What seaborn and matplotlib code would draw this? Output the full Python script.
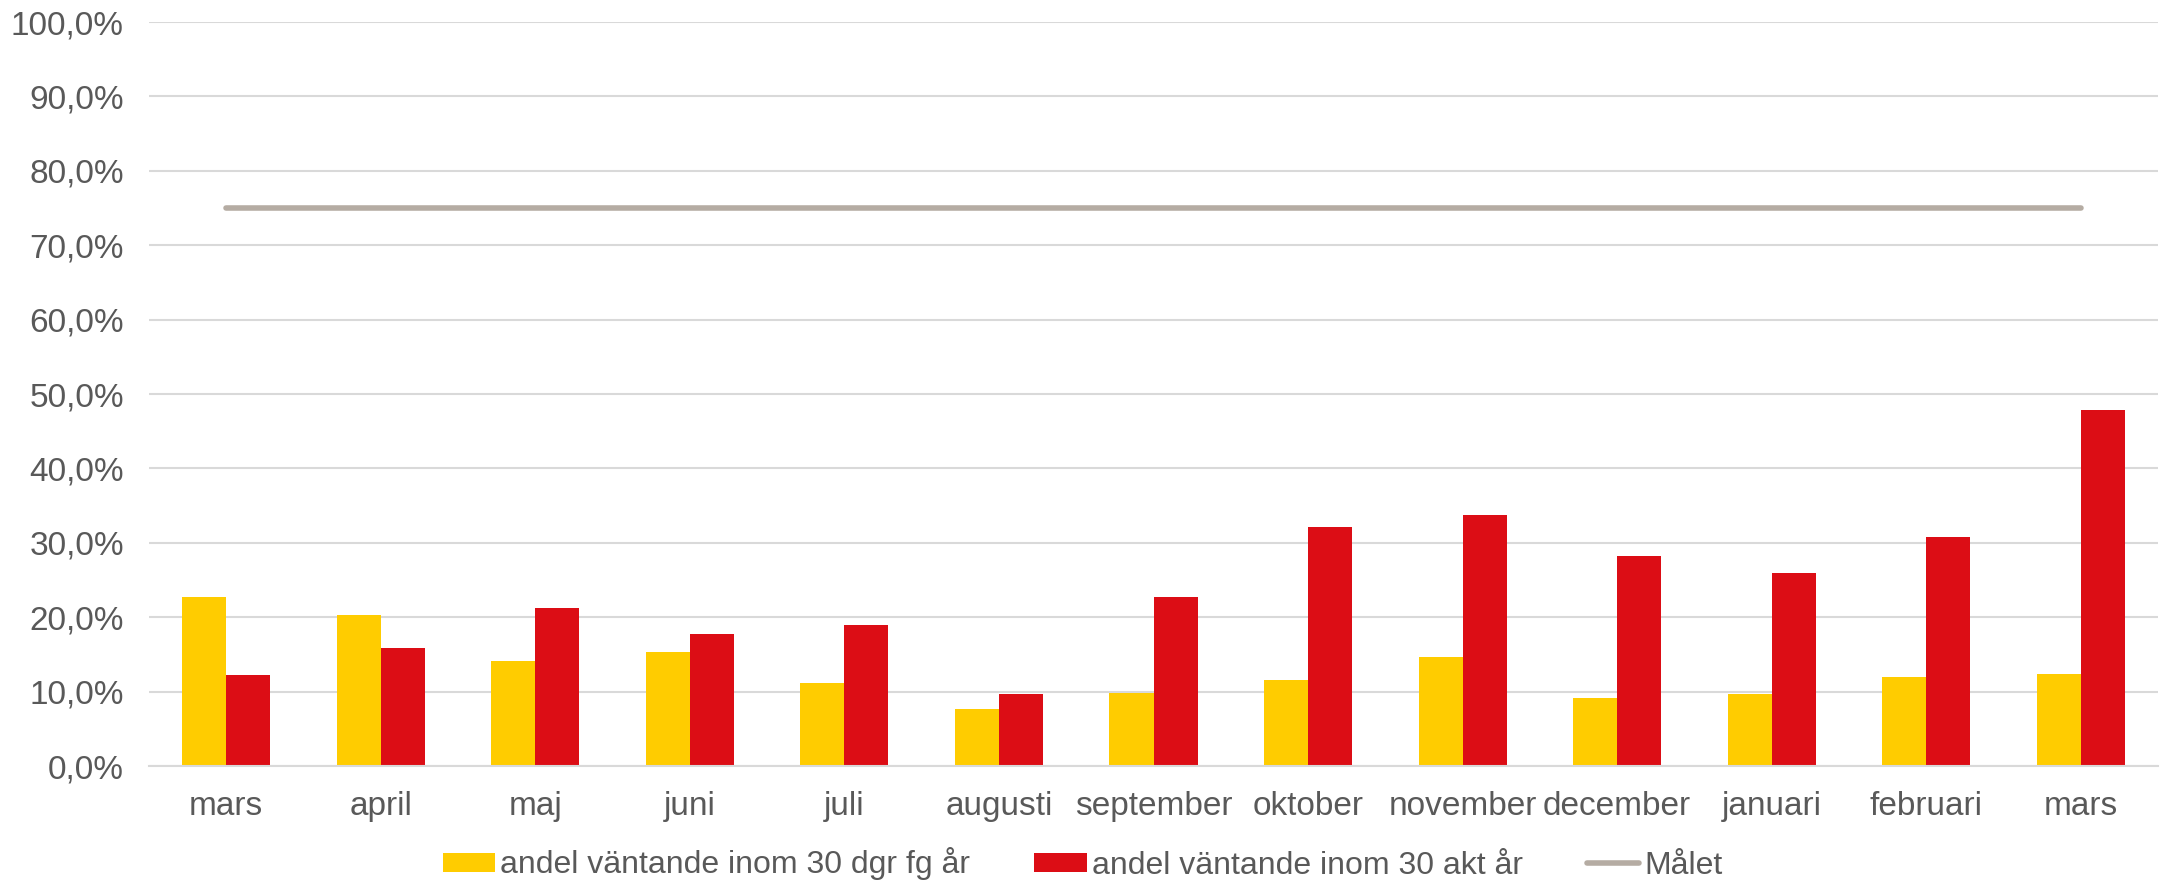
import matplotlib
matplotlib.use("Agg")
import matplotlib.pyplot as plt
import seaborn as sns
import pandas as pd
from matplotlib.ticker import FuncFormatter, MultipleLocator

months = ["mars", "april", "maj", "juni", "juli", "augusti", "september",
          "oktober", "november", "december", "januari", "februari", "mars"]
prev_year = [22.7, 20.3, 14.1, 15.3, 11.1, 7.7, 9.8, 11.6, 14.7, 9.1, 9.7, 12.0, 12.4]
curr_year = [12.3, 15.8, 21.2, 17.8, 19.0, 9.7, 22.7, 32.1, 33.7, 28.2, 26.0, 30.8, 47.8]
target = [75.0] * 13

lbl_prev = "andel väntande inom 30 dgr fg år"
lbl_curr = "andel väntande inom 30 akt år"
lbl_goal = "Målet"

pos = list(range(len(months)))
df = pd.DataFrame({
    "pos": pos + pos,
    "value": prev_year + curr_year,
    "serie": [lbl_prev] * len(pos) + [lbl_curr] * len(pos),
})
df_goal = pd.DataFrame({"pos": pos, "value": target})

sns.set_theme(style="white")
plt.rcParams["font.family"] = ["Liberation Sans", "DejaVu Sans"]

fig = plt.figure(figsize=(21.65, 8.82), dpi=100)
ax = fig.add_axes([0.0688, 0.1315, 0.928, 0.8435])

text_color = "#595959"
grid_color = "#d9d9d9"

ax.yaxis.set_major_locator(MultipleLocator(10))
ax.grid(axis="y", color=grid_color, linewidth=1.5, zorder=0)
ax.set_axisbelow(True)

sns.barplot(data=df, x="pos", y="value", hue="serie",
            palette=["#FFCC00", "#DC0D15"], width=0.57, gap=0,
            saturation=1, dodge=True, ax=ax, zorder=2, legend=True,
            linewidth=0)
sns.lineplot(data=df_goal, x="pos", y="value", color="#b5aca3",
             linewidth=4, label=lbl_goal, ax=ax, zorder=3,
             solid_capstyle="round")

ax.set_xlim(-0.5, len(months) - 0.5)
ax.set_ylim(0, 100)
ax.yaxis.set_major_formatter(FuncFormatter(lambda v, p: f"{v:.1f}%".replace(".", ",")))
ax.set_xticks(pos)
ax.set_xticklabels(months)
ax.set_xlabel("")
ax.set_ylabel("")
ax.tick_params(axis="both", colors=text_color, labelsize=24, length=0)
ax.tick_params(axis="x", pad=18)
ax.tick_params(axis="y", pad=18)
for s in ["top", "right", "left"]:
    ax.spines[s].set_visible(False)
ax.spines["bottom"].set_color(grid_color)
ax.spines["bottom"].set_linewidth(1.5)

handles, labels = ax.get_legend_handles_labels()
if ax.legend_:
    ax.legend_.remove()
leg = fig.legend(handles, labels, loc="center", bbox_to_anchor=(0.5, 1 - 864 / 882),
                 ncol=3, frameon=False, fontsize=23, handlelength=1.65,
                 handleheight=0.55, handletextpad=0.15, columnspacing=2.0,
                 labelcolor=text_color)

fig.savefig("out.png", dpi=100)
